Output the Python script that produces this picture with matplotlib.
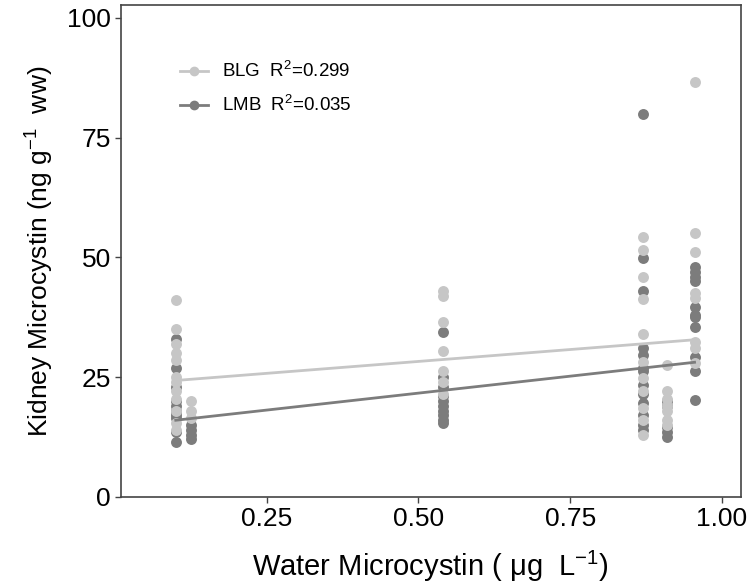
import numpy as np
import matplotlib
matplotlib.use("Agg")
import matplotlib.pyplot as plt
from matplotlib.lines import Line2D

plt.rcParams["font.family"] = ["Liberation Sans", "DejaVu Sans"]
plt.rcParams["mathtext.fontset"] = "custom"
plt.rcParams["mathtext.rm"] = "Liberation Sans"
plt.rcParams["mathtext.it"] = "Liberation Sans:italic"

# water microcystin at each site (ug/L)
sites = [0.10, 0.125, 0.54, 0.87, 0.91, 0.955]

# kidney microcystin (ng/g ww), bluegill
blg = {
    0.10: [41, 35, 32, 30, 28.5, 25, 24, 22, 20.5, 18, 15.5, 14],
    0.125: [20, 18, 16.5],
    0.54: [43, 42, 36.5, 30.5, 26.2, 24, 21.5],
    0.87: [54.3, 51.5, 46, 41.3, 34, 28.2, 24.8, 22, 18.6, 16, 13],
    0.91: [27.6, 22, 20.5, 19, 18, 16, 15],
    0.955: [86.7, 55, 51.2, 42.6, 41.5, 32.4, 31, 27.9],
}

# kidney microcystin (ng/g ww), largemouth bass
lmb = {
    0.10: [33, 27, 23, 20, 19, 18, 17, 16.5, 13.5, 11.5],
    0.125: [15, 14, 13, 12],
    0.54: [34.5, 25, 23, 21, 20, 19, 18, 17, 16, 15.5],
    0.87: [80, 49.8, 43, 31, 29.6, 27, 26.2, 23.4, 21.5, 19.6, 17, 15, 14],
    0.91: [20, 18.9, 14.5, 13.6, 12.6],
    0.955: [48, 47, 46, 45, 39.7, 38, 37.6, 35.5, 29.3, 26.2, 20.3],
}

# linear fits, evaluated at the ends of the water range
fit_x = [0.10, 0.955]
blg_fit = [24.3, 32.8]
lmb_fit = [16.0, 28.1]

labels = ["BLG  R$^2$=0.299", "LMB  R$^2$=0.035"]
c_blg = "#c6c6c6"
c_lmb = "#7c7c7c"

def flatten(d):
    xs, ys = [], []
    for k in sites:
        xs += [k] * len(d[k])
        ys += d[k]
    return xs, ys

fig = plt.figure(figsize=(7.55, 5.88), dpi=100)
ax = fig.add_axes([0.160, 0.155, 0.821, 0.8365])

x, y = flatten(lmb)
ax.scatter(x, y, s=62, color=c_lmb, linewidths=0, zorder=2)
x, y = flatten(blg)
ax.scatter(x, y, s=62, color=c_blg, linewidths=0, zorder=2)

ax.plot(fit_x, blg_fit, color=c_blg, lw=2, zorder=3)
ax.plot(fit_x, lmb_fit, color=c_lmb, lw=2, zorder=3)

ax.set_xlim(0.0094, 1.031)
ax.set_ylim(0, 102.7)
ax.set_xticks([0.25, 0.50, 0.75, 1.00])
ax.set_xticklabels(["0.25", "0.50", "0.75", "1.00"])
ax.set_yticks([0, 25, 50, 75, 100])

for s in ax.spines.values():
    s.set_color("#444444")
    s.set_linewidth(1.2)
ax.tick_params(length=4, width=1, color="#444444", labelsize=19, pad=3)

ax.set_xlabel("Water Microcystin ( \u03bcg  L$^{-1}$)", fontsize=21, labelpad=13)
ax.set_ylabel("Kidney Microcystin (ng g$^{-1}$  ww)", fontsize=19, labelpad=8)

handles = [
    Line2D([], [], color=c_blg, lw=2, marker="o", markersize=6),
    Line2D([], [], color=c_lmb, lw=2, marker="o", markersize=6),
]
ax.legend(handles, labels, loc="upper left", bbox_to_anchor=(0.068, 0.92),
          frameon=False, fontsize=13.5, handlelength=1.5, handletextpad=0.75,
          labelspacing=0.75)

fig.savefig("out.png", dpi=100)
plt.close(fig)
